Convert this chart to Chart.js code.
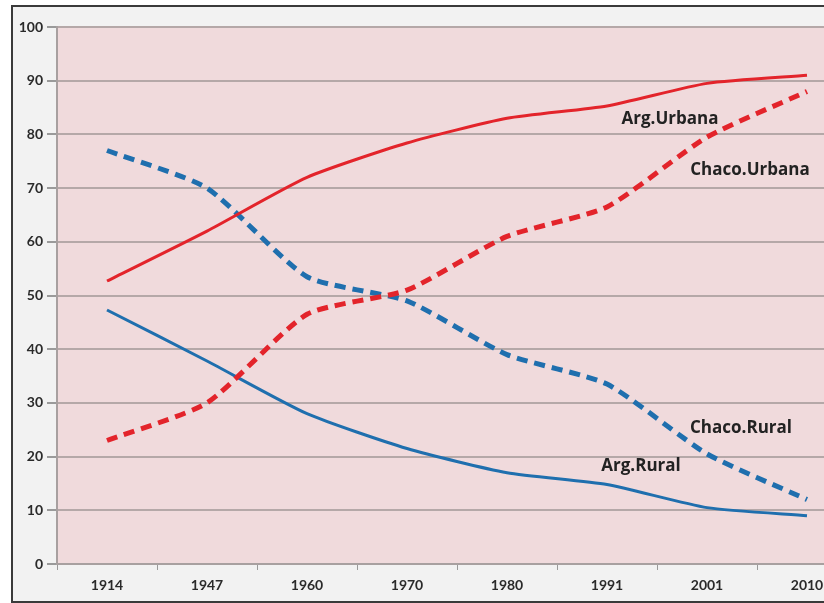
<!DOCTYPE html>
<html><head><meta charset="utf-8">
<script src="https://cdn.jsdelivr.net/npm/chart.js@4"></script>
<style>
html,body{margin:0;padding:0;background:#fff;overflow:hidden;width:824px;height:603px;}
#frame{position:absolute;left:11px;top:5px;width:840px;height:594px;background:#f2f2f2;border-left:2px solid #3a3a3a;border-top:2px solid #3a3a3a;border-bottom:2px solid #3a3a3a;}
#wrap{position:absolute;left:0;top:0;width:870px;height:603px;}
</style></head><body>
<div id="frame"></div>
<div id="wrap"><canvas id="c" width="870" height="603"></canvas></div>
<script>
const years = ['1914','1947','1960','1970','1980','1991','2001','2010'];
const argUrbana   = [52.7, 62, 72, 78.4, 83, 85.3, 89.5, 91];
const chacoUrbana = [23, 30, 46.5, 51, 61, 66.5, 79.5, 88];
const chacoRural  = [77, 70, 53.5, 49, 39, 33.5, 20.5, 12];
const argRural    = [47.3, 37.8, 28, 21.5, 17, 14.8, 10.5, 9];
const yTicks = [0,10,20,30,40,50,60,70,80,90,100];
const seriesNames = ['Arg.Urbana','Chaco.Urbana','Chaco.Rural','Arg.Rural'];

const RED = '#e3242b', BLUE = '#1f6fae';
const labelPos = [ [5.63, 82.9], [6.43, 73.4], [6.34, 25.3], [5.34, 18.2] ];

const plotBg = {
  id:'plotBg',
  beforeDraw(chart){
    const {ctx, chartArea:a} = chart;
    ctx.save(); ctx.fillStyle='#f0dadc';
    ctx.fillRect(a.left, a.top, a.right-a.left, a.bottom-a.top);
    ctx.restore();
  }
};
const seriesLabels = {
  id:'seriesLabels',
  afterDatasetsDraw(chart){
    const {ctx, scales:{x,y}} = chart;
    ctx.save();
    ctx.font = 'bold 17px "Open Sans", Lato, sans-serif';
    ctx.fillStyle = '#222';
    ctx.textAlign='center'; ctx.textBaseline='middle';
    seriesNames.forEach((n,i)=>{
      ctx.fillText(n, x.getPixelForValue(labelPos[i][0]), y.getPixelForValue(labelPos[i][1]));
    });
    ctx.restore();
  }
};

new Chart(document.getElementById('c'), {
  type:'line',
  data:{
    labels: years,
    datasets:[
      {label:seriesNames[0], data:argUrbana, borderColor:RED, borderWidth:3, tension:0.2},
      {label:seriesNames[1], data:chacoUrbana, borderColor:RED, borderWidth:5, borderDash:[11,7], tension:0.2},
      {label:seriesNames[2], data:chacoRural, borderColor:BLUE, borderWidth:5, borderDash:[11,7], tension:0.2},
      {label:seriesNames[3], data:argRural, borderColor:BLUE, borderWidth:3, tension:0.2}
    ]
  },
  options:{
    responsive:false, animation:false,
    layout:{padding:{top:27,right:13,left:0,bottom:0}},
    elements:{point:{radius:0}},
    plugins:{legend:{display:false}, tooltip:{enabled:false}},
    scales:{
      x:{
        offset:true,
        grid:{offset:true, drawOnChartArea:false, color:'#9a9a9a', tickLength:6, lineWidth:1},
        border:{color:'#a8a0a0', width:2},
        ticks:{color:'#2a2a2a', font:{family:'Lato, "Open Sans", sans-serif', size:14, weight:'bold'}, padding:7, maxRotation:0},
        afterFit(s){ s.height = 39; }
      },
      y:{
        min:0, max:100,
        afterBuildTicks(s){ s.ticks = yTicks.map(v=>({value:v})); },
        grid:{color:'#b5a8a8', lineWidth:2, tickLength:10, tickColor:'#9a9a9a'},
        border:{color:'#a8a0a0', width:2},
        ticks:{color:'#2a2a2a', font:{family:'Lato, "Open Sans", sans-serif', size:14, weight:'bold'}, padding:4},
        afterFit(s){ s.width = 57; }
      }
    }
  },
  plugins:[plotBg, seriesLabels]
});
</script>
</body></html>
